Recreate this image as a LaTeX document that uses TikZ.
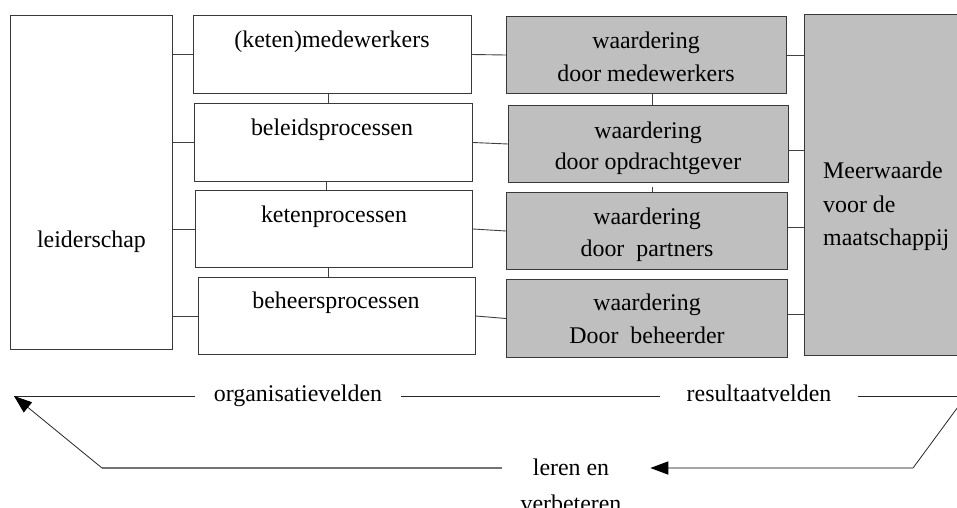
\documentclass[tikz,border=0pt]{standalone}
\usepackage{fontspec}
\setmainfont{Liberation Serif}
\usetikzlibrary{arrows.meta}
\begin{document}
\begin{tikzpicture}[x=1pt,y=-1pt,
  box/.style={draw=black!78, line width=1pt, inner sep=0pt, anchor=north west},
  wbox/.style={box, fill=black!25},
  txt/.style={font=\fontsize{23.9}{32}\selectfont, inner sep=0pt, anchor=base},
  conn/.style={draw=black!75, line width=0.9pt},
  flow/.style={line width=1pt, draw=black!85},
  tip/.style={-{Triangle[length=18pt,width=13pt,color=black]}}]
\useasboundingbox (0,0) rectangle (957,507);
\clip (0,0) rectangle (957,507);
% boxes
\node[box, minimum width=162pt, minimum height=334pt] (lead) at (10,15) {};
\node[txt] (leadt) at (91.5,247) {leiderschap};
\node[box, minimum width=278pt, minimum height=78pt] (k1) at (193,15) {};
\node[box, minimum width=278pt, minimum height=78pt] (k2) at (194,103) {};
\node[box, minimum width=277pt, minimum height=77pt] (k3) at (195,190) {};
\node[box, minimum width=277pt, minimum height=77pt] (k4) at (198,277) {};
\node[txt] (k1t) at (332,47) {(keten)medewerkers};
\node[txt] (k2t) at (332,135) {beleidsprocessen};
\node[txt] (k3t) at (334,222) {ketenprocessen};
\node[txt] (k4t) at (336,308) {beheersprocessen};
\node[wbox, minimum width=280pt, minimum height=77pt] (w1) at (506,16) {};
\node[wbox, minimum width=280pt, minimum height=77pt] (w2) at (508,105) {};
\node[wbox, minimum width=281pt, minimum height=77pt] (w3) at (506,192) {};
\node[wbox, minimum width=281pt, minimum height=78pt] (w4) at (506,279) {};
\node[txt] (w1a) at (646,48) {waardering};
\node[txt] (w1b) at (646,81) {door medewerkers};
\node[txt] (w2a) at (648,138) {waardering};
\node[txt] (w2b) at (648,169) {door opdrachtgever};
\node[txt] (w3a) at (647,224) {waardering};
\node[txt] (w3b) at (647,256) {door\ \ partners};
\node[txt] (w4a) at (647,310) {waardering};
\node[txt] (w4b) at (647,343) {Door\ \ beheerder};
\node[wbox, minimum width=170pt, minimum height=341pt] (meer) at (804,14) {};
\node[txt, anchor=base west] (m1) at (823,178) {Meerwaarde};
\node[txt, anchor=base west] (m2) at (823,212) {voor de};
\node[txt, anchor=base west] (m3) at (823,245) {maatschappij};
% connectors leiderschap -> boxes
\draw[conn] (lead.east |- k1.west) -- (k1.west);
\draw[conn] (lead.east |- k2.west) -- (k2.west);
\draw[conn] (lead.east |- k3.west) -- (k3.west);
\draw[conn] (lead.east |- k4.west) -- (k4.west);
% boxes -> waardering
\draw[conn] (k1.east) -- (w1.west);
\draw[conn] (k2.east) -- (w2.west);
\draw[conn] (k3.east) -- (w3.west);
\draw[conn] (k4.east) -- (w4.west);
% waardering -> meerwaarde
\draw[conn] (w1.east |- 0,55) -- (meer.west |- 0,55);
\draw[conn] (w2.east |- 0,150) -- (meer.west |- 0,150);
\draw[conn] (w3.east |- 0,227) -- (meer.west |- 0,227);
\draw[conn] (w4.east |- 0,314) -- (meer.west |- 0,314);
% vertical links
\draw[conn] (k1.south -| 328,0) -- (k2.north -| 328,0);
\draw[conn] (k2.south -| 326,0) -- (k3.north -| 326,0);
\draw[conn] (k3.south -| 328,0) -- (k4.north -| 328,0);
\draw[conn] (w1.south -| 652,0) -- (w2.north -| 652,0);
\draw[conn] (652,187) -- (w3.north -| 652,0);
% bottom field line
\coordinate (tl) at (14,396);
\coordinate (tr) at (966,396);
\coordinate (br) at (913,468);
\coordinate (bl) at (102,468);
\node[txt, inner xsep=19pt] (org) at (298,401.5) {organisatievelden};
\node[txt, inner xsep=26pt] (res) at (759,401.5) {resultaatvelden};
\draw[flow] (tl) -- (org.west |- tl);
\draw[flow] (org.east |- tl) -- (res.west |- tl);
\draw[flow] (res.east |- tl) -- (tr);
% learning loop
\node[txt] (le1) at (571,475) {leren en};
\node[txt] (le2) at (571,511) {verbeteren};
\draw[line width=0.8pt, draw=black!85] (tr) -- (br);
\draw[line width=1.6pt, draw=black!35, tip] (br) -- ([xshift=41pt]le1.east |- br);
\draw[line width=1.6pt, draw=black!55] ([xshift=-31pt]le1.west |- bl) -- (bl);
\draw[line width=0.8pt, draw=black!85, tip] (bl) -- (tl);
\end{tikzpicture}
\end{document}
